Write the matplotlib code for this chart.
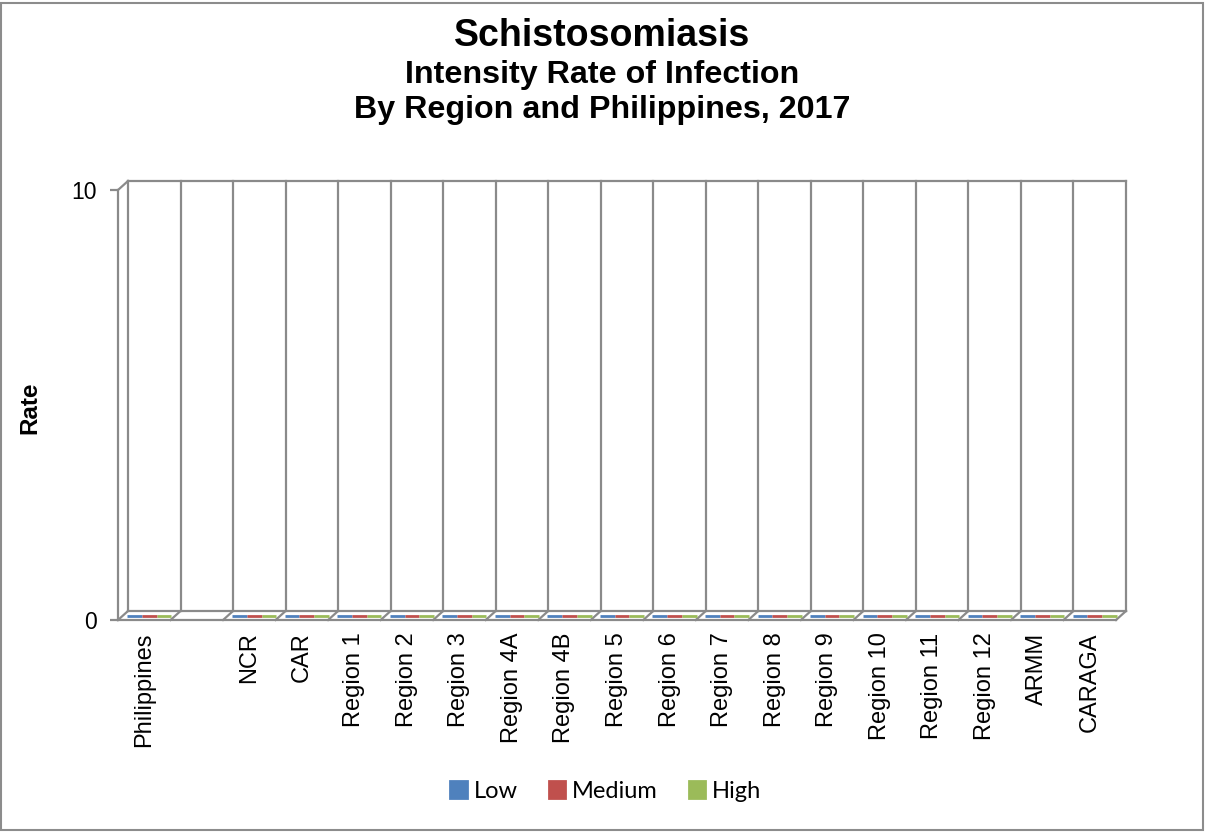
import numpy as np
import matplotlib.pyplot as plt
from matplotlib.patches import Rectangle

plt.rcParams['font.family'] = ['Liberation Sans', 'DejaVu Sans']

regions = ["Philippines", "", "NCR", "CAR", "Region 1", "Region 2", "Region 3",
           "Region 4A", "Region 4B", "Region 5", "Region 6", "Region 7",
           "Region 8", "Region 9", "Region 10", "Region 11", "Region 12",
           "ARMM", "CARAGA"]
nan = np.nan
low = [0, nan, 0, 0, 0, 0, 0, 0, 0, 0, 0, 0, 0, 0, 0, 0, 0, 0, 0]
medium = [0, nan, 0, 0, 0, 0, 0, 0, 0, 0, 0, 0, 0, 0, 0, 0, 0, 0, 0]
high = [0, nan, 0, 0, 0, 0, 0, 0, 0, 0, 0, 0, 0, 0, 0, 0, 0, 0, 0]

W, H = 1205, 832
fig = plt.figure(figsize=(W / 100, H / 100), dpi=100)
ax = fig.add_axes([118 / W, 212 / H, 998 / W, 430 / H])

n = len(regions)
x = np.arange(n) + 0.5
ax.set_xlim(0, n)
ax.set_ylim(0, 10)

# depth of the fake 3d box, in data units
dx = 10 / (998 / n)
dy = 9 / (430 / 10)
grid = dict(color="#8a8a8a", lw=1.6, clip_on=False, zorder=1)

# back wall
for k in range(n + 1):
    ax.plot([k + dx, k + dx], [dy, 10 + dy], **grid)
    ax.plot([k, k + dx], [0, dy], **grid)
ax.plot([dx, n + dx], [10 + dy, 10 + dy], **grid)
ax.plot([dx, n + dx], [dy, dy], **grid)
ax.plot([0, dx], [10, 10 + dy], **grid)

# bars (all zero) sitting mid-depth on the floor
w = 0.28
series = [("Low", low, "#4F81BD"), ("Medium", medium, "#C0504D"), ("High", high, "#9BBB59")]
handles = []
for i, (name, vals, col) in enumerate(series):
    vals = np.array(vals, dtype=float)
    m = ~np.isnan(vals)
    b = ax.bar(x[m] + (i - 1) * w + dx / 2, vals[m], w, bottom=dy / 2,
               color=col, edgecolor=col, lw=2.0, clip_on=False, zorder=3, label=name)
    handles.append(b)

for s in ["top", "right"]:
    ax.spines[s].set_visible(False)
for s in ["left", "bottom"]:
    ax.spines[s].set_color("#8a8a8a")
    ax.spines[s].set_linewidth(1.6)

ax.set_yticks([0, 10])
ax.tick_params(axis="y", length=6, width=1.6, color="#8a8a8a", pad=9, labelsize=16.5)
ax.set_xticks(x, regions, rotation=90, va="top", ha="center")
ax.tick_params(axis="x", length=0, pad=9, labelsize=17)

fig.text(0.5, 1 - 36 / H, "Schistosomiasis", ha="center", va="center",
         fontsize=27, fontweight="bold")
fig.text(0.5, 1 - 75 / H, "Intensity Rate of Infection", ha="center", va="center",
         fontsize=23.2, fontweight="bold")
fig.text(0.5, 1 - 110 / H, "By Region and Philippines, 2017", ha="center", va="center",
         fontsize=23.2, fontweight="bold")
fig.text(30 / W, 1 - 408 / H, "Rate", rotation=90, ha="center", va="center",
         fontsize=17.5, fontweight="bold")

fig.legend(handles=handles, loc="center", bbox_to_anchor=(606 / W, 1 - 791 / H),
           ncol=3, frameon=False, handlelength=0.7, handleheight=0.7,
           handletextpad=0.3, columnspacing=1.3, prop={"family": "Lato", "size": 17})

fig.patches.append(Rectangle((0.001, 0.002), 0.997, 0.994, transform=fig.transFigure,
                             fill=False, edgecolor="#8c8c8c", lw=1.5))

fig.savefig("out.png", dpi=100)
